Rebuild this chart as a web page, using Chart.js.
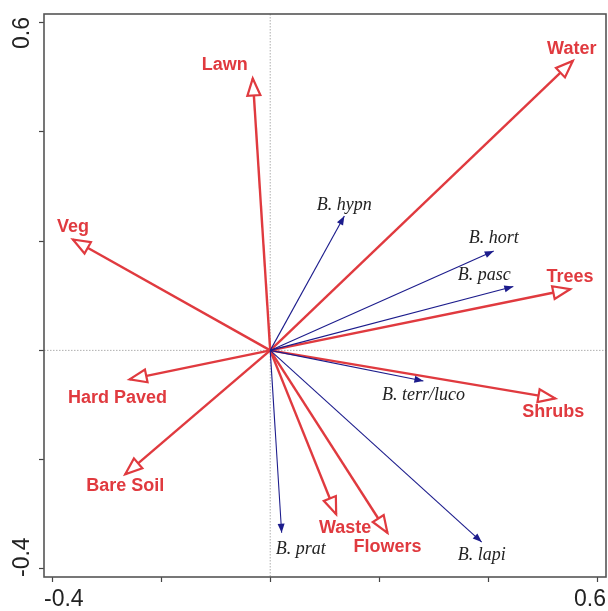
<!DOCTYPE html>
<html>
<head>
<meta charset="utf-8">
<script src="https://cdn.jsdelivr.net/npm/chart.js@4/dist/chart.umd.min.js"></script>
<style>
  html, body { margin: 0; padding: 0; background: #fff; }
  #wrap { width: 608px; height: 611px; }
</style>
</head>
<body>
<div id="wrap"><canvas id="biplot" width="608" height="611"></canvas></div>
<script>
// environmental variables (red arrows)
const envNames = ["Lawn", "Veg", "Water", "Trees", "Shrubs", "Flowers", "Waste", "Hard Paved", "Bare Soil"];
const envX = [-0.032, -0.362, 0.555, 0.550, 0.523, 0.215, 0.121, -0.258, -0.266];
const envY = [0.498, 0.203, 0.530, 0.112, -0.088, -0.334, -0.300, -0.053, -0.227];

// species (blue arrows)
const sppNames = ["B. hypn", "B. hort", "B. pasc", "B. terr/luco", "B. lapi", "B. prat"];
const sppX = [0.136, 0.410, 0.446, 0.281, 0.388, 0.021];
const sppY = [0.246, 0.182, 0.117, -0.056, -0.351, -0.334];

// axis ticks
const tickValues = [-0.4, -0.2, 0, 0.2, 0.4, 0.6];
const tickLabels = ["-0.4", "", "", "", "", "0.6"];

const RED = "#e03a3f";
const BLUE = "#1c1c8c";

// label offsets from the arrow tip, in pixels
const envLabelOffset = [[-28, -13], [0, -12], [-1, -12], [0, -12], [-2, 14], [0, 14], [9, 14], [-12, 19], [0, 12]];
const sppLabelOffset = [[0, -11], [0, -13], [-29, -11], [0, 14], [0, 13], [19, 16]];

const datasets = [];
sppNames.forEach((name, i) => {
  datasets.push({
    label: name,
    kind: "spp",
    data: [{ x: 0, y: 0 }, { x: sppX[i], y: sppY[i] }],
    borderColor: BLUE,
    borderWidth: 1.1,
    showLine: true,
    pointRadius: 0,
  });
});
envNames.forEach((name, i) => {
  datasets.push({
    label: name,
    kind: "env",
    data: [{ x: 0, y: 0 }, { x: envX[i], y: envY[i] }],
    borderColor: RED,
    borderWidth: 2.4,
    showLine: true,
    pointRadius: 0,
  });
});

const frameAndZero = {
  id: "frameAndZero",
  beforeDatasetsDraw(chart) {
    const { ctx, chartArea: a, scales } = chart;
    const x0 = scales.x.getPixelForValue(0);
    const y0 = scales.y.getPixelForValue(0);
    ctx.save();
    ctx.strokeStyle = "#9a9a9a";
    ctx.lineWidth = 0.8;
    ctx.setLineDash([1.5, 1.5]);
    ctx.beginPath();
    ctx.moveTo(x0, a.top);
    ctx.lineTo(x0, a.bottom);
    ctx.moveTo(a.left, y0);
    ctx.lineTo(a.right, y0);
    ctx.stroke();
    ctx.restore();
  },
  afterDraw(chart) {
    const { ctx, chartArea: a, scales } = chart;
    ctx.save();
    ctx.strokeStyle = "#555";
    ctx.lineWidth = 1.6;
    ctx.strokeRect(a.left, a.top, a.right - a.left, a.bottom - a.top);

    // tick labels, kept inside the frame edges like the original
    ctx.fillStyle = "#222";
    ctx.font = "23px 'Liberation Sans', Arial, sans-serif";
    ctx.textBaseline = "middle";
    const yLab = a.bottom + 23;
    tickValues.forEach((v, i) => {
      if (!tickLabels[i]) return;
      const px = scales.x.getPixelForValue(v);
      ctx.textAlign = i === 0 ? "left" : "right";
      ctx.fillText(tickLabels[i], i === 0 ? Math.min(px, a.left) : Math.max(px, a.right), yLab);
    });
    tickValues.forEach((v, i) => {
      if (!tickLabels[i]) return;
      const py = scales.y.getPixelForValue(v);
      ctx.save();
      ctx.translate(a.left - 21, i === 0 ? Math.max(py, a.bottom) : Math.min(py, a.top + 3));
      ctx.rotate(-Math.PI / 2);
      ctx.textAlign = i === 0 ? "left" : "right";
      ctx.fillText(tickLabels[i], 0, 0);
      ctx.restore();
    });
    ctx.restore();
  },
};

const arrowHeads = {
  id: "arrowHeads",
  afterDatasetsDraw(chart) {
    const { ctx } = chart;
    ctx.save();
    let envIdx = 0;
    let sppIdx = 0;
    chart.data.datasets.forEach((ds, di) => {
      const pts = chart.getDatasetMeta(di).data;
      const p0 = pts[0];
      const p1 = pts[1];
      const ang = Math.atan2(p1.y - p0.y, p1.x - p0.x);
      const isEnv = ds.kind === "env";
      const len = isEnv ? 17 : 9;
      const half = isEnv ? 6.5 : 3.5;
      const bx = p1.x - len * Math.cos(ang);
      const by = p1.y - len * Math.sin(ang);
      const nx = -Math.sin(ang) * half;
      const ny = Math.cos(ang) * half;
      ctx.beginPath();
      ctx.moveTo(p1.x, p1.y);
      ctx.lineTo(bx + nx, by + ny);
      ctx.lineTo(bx - nx, by - ny);
      ctx.closePath();
      if (isEnv) {
        ctx.fillStyle = "#fff";
        ctx.fill();
        ctx.lineWidth = 2.2;
        ctx.lineJoin = "miter";
        ctx.strokeStyle = RED;
        ctx.stroke();
      } else {
        ctx.fillStyle = BLUE;
        ctx.fill();
      }

      // labels
      ctx.textAlign = "center";
      ctx.textBaseline = "middle";
      if (isEnv) {
        const off = envLabelOffset[envIdx++];
        ctx.font = "bold 18px 'Liberation Sans', Arial, sans-serif";
        ctx.fillStyle = RED;
        ctx.fillText(ds.label, p1.x + off[0], p1.y + off[1]);
      } else {
        const off = sppLabelOffset[sppIdx++];
        ctx.font = "italic 18px 'Liberation Serif', 'Times New Roman', serif";
        ctx.fillStyle = "#222";
        ctx.fillText(ds.label, p1.x + off[0], p1.y + off[1]);
      }
    });
    ctx.restore();
  },
};

const axisOpts = (min, max) => ({
  type: "linear",
  min: min,
  max: max,
  afterBuildTicks: (scale) => {
    scale.ticks = tickValues.map((v) => ({ value: v }));
  },
  ticks: { display: false },
  grid: {
    display: true,
    drawOnChartArea: false,
    drawTicks: true,
    tickLength: 5,
    tickColor: "#444",
    tickWidth: 1.2,
  },
  border: { display: false },
});

new Chart(document.getElementById("biplot"), {
  type: "scatter",
  data: { datasets },
  options: {
    responsive: false,
    animation: false,
    layout: { padding: { left: 39, right: 2, top: 14, bottom: 29 } },
    scales: {
      x: { ...axisOpts(-0.415, 0.616), position: "bottom" },
      y: { ...axisOpts(-0.415, 0.616), position: "left" },
    },
    plugins: {
      legend: { display: false },
      tooltip: { enabled: false },
    },
  },
  plugins: [frameAndZero, arrowHeads],
});
</script>
</body>
</html>
